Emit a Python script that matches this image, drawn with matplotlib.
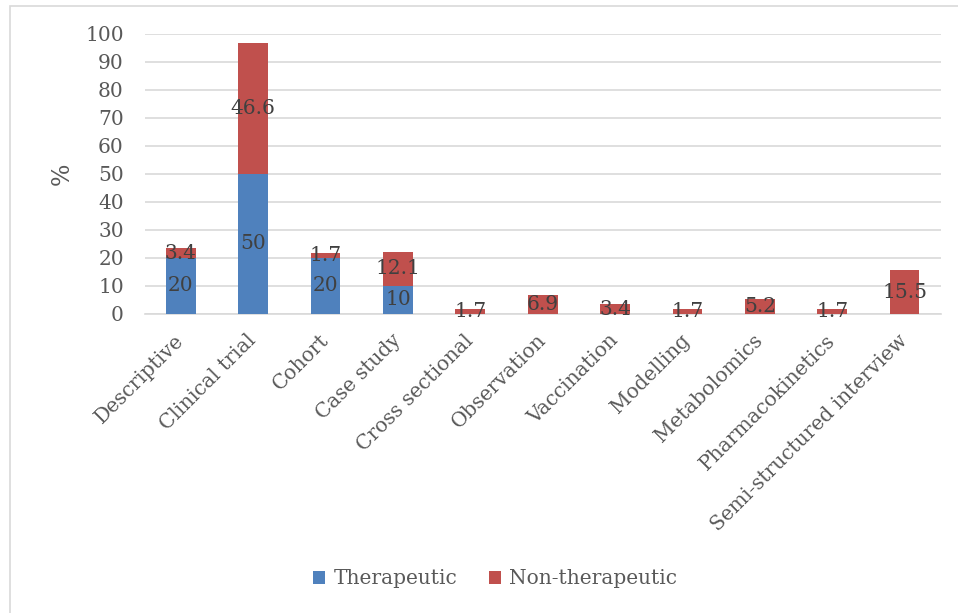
import matplotlib.pyplot as plt
import numpy as np
from matplotlib.patches import Rectangle

categories = ["Descriptive", "Clinical trial", "Cohort", "Case study", "Cross sectional",
              "Observation", "Vaccination", "Modelling", "Metabolomics",
              "Pharmacokinetics", "Semi-structured interview"]
therapeutic = [20, 50, 20, 10, 0, 0, 0, 0, 0, 0, 0]
non_therapeutic = [3.4, 46.6, 1.7, 12.1, 1.7, 6.9, 3.4, 1.7, 5.2, 1.7, 15.5]

plt.rcParams['font.family'] = ['DejaVu Serif']

fig = plt.figure(figsize=(9.58, 6.13), dpi=100)
ax = fig.add_axes([0.151, 0.488, 0.831, 0.457])

# outer chart frame
fig.patches.append(Rectangle((10 / 958, -0.1), 1.2, (613 - 6) / 613 + 0.1,
                             transform=fig.transFigure, fill=False,
                             edgecolor='#D9D9D9', linewidth=1.2))

x = np.arange(len(categories))
w = 0.41
b1 = ax.bar(x, therapeutic, w, color='#4F81BD', label='Therapeutic', zorder=3)
b2 = ax.bar(x, non_therapeutic, w, bottom=therapeutic, color='#C0504D',
            label='Non-therapeutic', zorder=3)

for i in range(len(categories)):
    if therapeutic[i] > 0:
        ax.text(x[i], therapeutic[i] / 2, f"{therapeutic[i]:g}", ha='center', va='center',
                fontsize=14.5, color='#404040', zorder=4)
    ax.text(x[i], therapeutic[i] + non_therapeutic[i] / 2, f"{non_therapeutic[i]:g}",
            ha='center', va='center', fontsize=14.5, color='#404040', zorder=4)

ax.set_xlim(-0.5, len(categories) - 0.5)
ax.set_ylim(0, 100)
ax.set_yticks(range(0, 101, 10))
ax.grid(axis='y', color='#D9D9D9', linewidth=1.2, zorder=0)
for s in ['top', 'right', 'left']:
    ax.spines[s].set_visible(False)
ax.spines['bottom'].set_color('#D9D9D9')
ax.spines['bottom'].set_linewidth(1.2)
ax.tick_params(length=0, labelsize=14.5, colors='#595959')
ax.tick_params(axis='y', pad=15)
ax.tick_params(axis='x', pad=17)
ax.set_xticks(x)
ax.set_xticklabels(categories, rotation=45, ha='right', va='center', rotation_mode='anchor')
ax.set_ylabel('%', fontsize=17, color='#595959', labelpad=8)

fig.legend(handles=[b1, b2], loc='center', bbox_to_anchor=(0.517, 1 - 579 / 613),
           ncol=2, frameon=False, fontsize=14.5, labelcolor='#595959',
           handlelength=0.6, handleheight=0.6, handletextpad=0.4, columnspacing=1.6)

fig.savefig('out.png', dpi=100)
